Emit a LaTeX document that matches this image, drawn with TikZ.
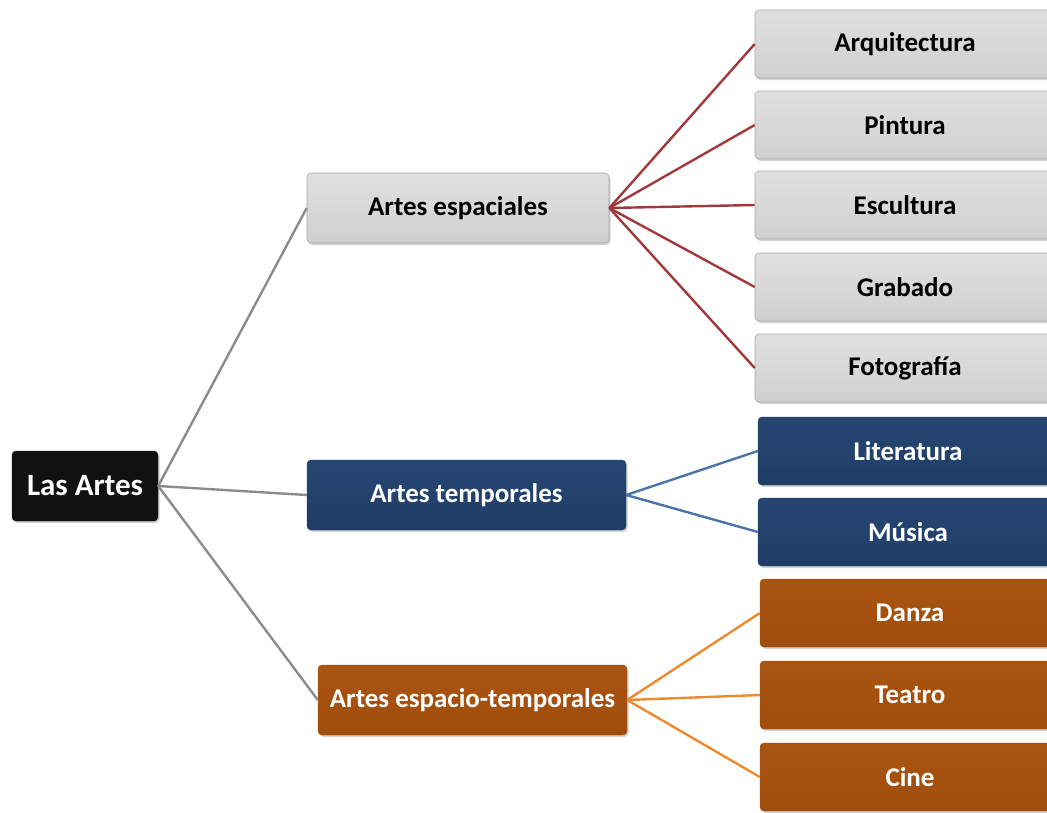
\documentclass[tikz,border=0pt]{standalone}
\usepackage{fontspec}
\setmainfont{Carlito}
\usetikzlibrary{shadows}
\definecolor{grayfill}{HTML}{D0D0D0}
\definecolor{grayfillt}{HTML}{E0E0E0}
\definecolor{bluefill}{HTML}{1F3D66}
\definecolor{bluefillt}{HTML}{264672}
\definecolor{orangefill}{HTML}{A04D0C}
\definecolor{orangefillt}{HTML}{AA5412}
\definecolor{rootfill}{HTML}{111111}
\definecolor{redline}{HTML}{A0393C}
\definecolor{blueline}{HTML}{4A74A8}
\definecolor{orangeline}{HTML}{EE8A2E}
\definecolor{grayline}{HTML}{8C8C8C}
\tikzset{
  box/.style={rectangle, rounded corners=4pt, font=\bfseries\fontsize{27}{30}\selectfont,
    inner sep=0pt, drop shadow={shadow xshift=1.5pt, shadow yshift=-2pt, opacity=0.35}},
  graybox/.style={box, top color=grayfillt, bottom color=grayfill, draw=grayfill!80!black, line width=0.6pt, text=black},
  bluebox/.style={box, top color=bluefillt, bottom color=bluefill, draw=bluefill, text=white},
  orangebox/.style={box, top color=orangefillt, bottom color=orangefill, draw=orangefill, text=white},
  rootbox/.style={box, fill=rootfill, draw=rootfill, text=white, font=\bfseries\fontsize{31}{34}\selectfont},
  conn/.style={line width=2.4pt},
}
\begin{document}
\begin{tikzpicture}[x=1pt,y=-1pt]
\useasboundingbox (0,0) rectangle (1047,812);
% root
\node[rootbox, minimum width=146pt, minimum height=70pt] (root) at (85,486) {Las Artes};
% level 1
\node[graybox, minimum width=302pt, minimum height=70pt] (esp) at (458,208) {Artes espaciales};
\node[bluebox, minimum width=319pt, minimum height=70pt] (tem) at (466.5,495) {Artes temporales};
\node[orangebox, minimum width=309pt, minimum height=70pt] (et) at (472.5,700) {Artes espacio-temporales};
% level 2 (right edge cut by page)
\begin{scope}[every node/.append style={minimum width=300pt, minimum height=68pt}]
\node[graybox] (arq) at (905,44) {Arquitectura};
\node[graybox] (pin) at (905,125) {Pintura};
\node[graybox] (esc) at (905,205) {Escultura};
\node[graybox] (gra) at (905,287) {Grabado};
\node[graybox] (fot) at (905,368) {Fotografía};
\node[bluebox] (lit) at (908,451) {Literatura};
\node[bluebox] (mus) at (908,532) {Música};
\node[orangebox] (dan) at (910,613) {Danza};
\node[orangebox] (tea) at (910,695) {Teatro};
\node[orangebox] (cin) at (910,777) {Cine};
\end{scope}
% connectors
\draw[conn, grayline] (root.east) -- (esp.west);
\draw[conn, grayline] (root.east) -- (tem.west);
\draw[conn, grayline] (root.east) -- (et.west);
\foreach \c in {arq,pin,esc,gra,fot} \draw[conn, redline] (esp.east) -- (\c.west);
\foreach \c in {lit,mus} \draw[conn, blueline] (tem.east) -- (\c.west);
\foreach \c in {dan,tea,cin} \draw[conn, orangeline] (et.east) -- (\c.west);
\end{tikzpicture}
\end{document}
